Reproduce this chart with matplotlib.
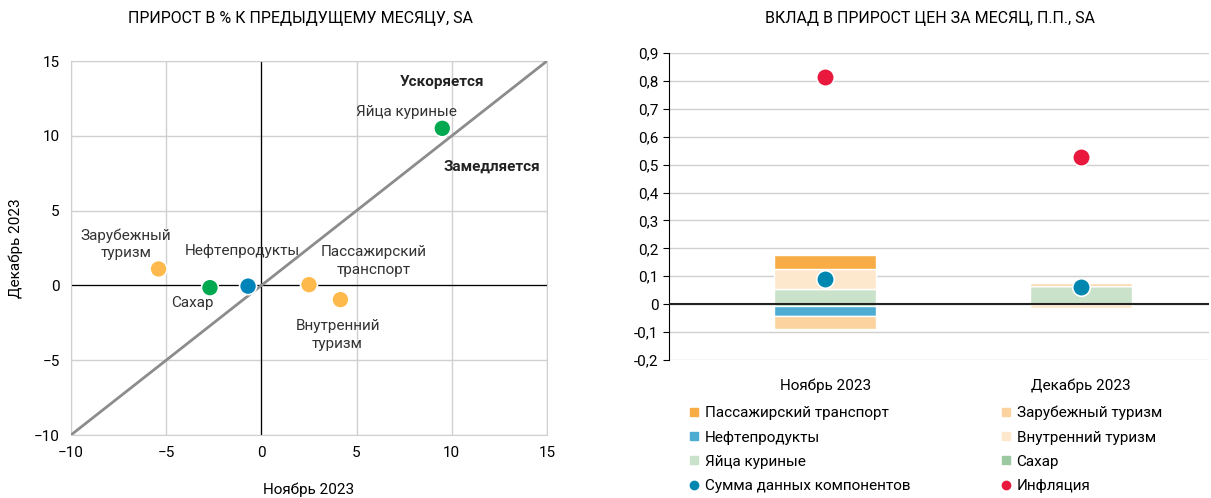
import numpy as np
import matplotlib
matplotlib.use("Agg")
import matplotlib.pyplot as plt
from matplotlib.lines import Line2D

plt.rcParams['font.family'] = ['Roboto', 'DejaVu Sans']
plt.rcParams['font.size'] = 11

# left panel: m/m growth, Nov vs Dec 2023
items = ["Яйца куриные", "Зарубежный\nтуризм", "Сахар", "Нефтепродукты",
         "Пассажирский\nтранспорт", "Внутренний\nтуризм"]
nov_pct = [9.5, -5.4, -2.7, -0.7, 2.5, 4.15]
dec_pct = [10.5, 1.1, -0.15, -0.05, 0.05, -0.95]
item_colors = ["#00A850", "#FDB94B", "#00A850", "#0083B9", "#FDB94B", "#FDB94B"]
label_pos = [(7.6, 11.6), (-7.1, 2.75), (-3.6, -1.2), (-1.0, 2.3), (5.9, 1.65), (4.0, -3.3)]

# right panel: contributions, p.p.
months = ["Ноябрь 2023", "Декабрь 2023"]
contrib = {
    "Яйца куриные": [0.053, 0.066],
    "Внутренний туризм": [0.073, -0.015],
    "Пассажирский транспорт": [0.052, 0.0],
    "Зарубежный туризм": [-0.048, 0.010],
    "Нефтепродукты": [-0.033, 0.0],
    "Сахар": [-0.008, 0.0],
}
comp_colors = {
    "Пассажирский транспорт": "#F8AC45",
    "Зарубежный туризм": "#FCD39F",
    "Нефтепродукты": "#4CACD1",
    "Внутренний туризм": "#FDE8CD",
    "Яйца куриные": "#CAE2CA",
    "Сахар": "#9CC9A1",
}
stack_order = ["Яйца куриные", "Сахар", "Нефтепродукты", "Внутренний туризм",
               "Зарубежный туризм", "Пассажирский транспорт"]
total = [0.089, 0.062]
inflation = [0.815, 0.528]

fig = plt.figure(figsize=(12.11, 4.98), dpi=100)

# ---- left chart
ax1 = fig.add_axes([0.0586, 0.1265, 0.3931, 0.751])
ax1.set_xlim(-10, 15)
ax1.set_ylim(-10, 15)
ax1.set_xticks(np.arange(-10, 16, 5))
ax1.set_yticks(np.arange(-10, 16, 5))
ax1.grid(color="#D0D0D0", lw=1)
for s in ax1.spines.values():
    s.set_color("#D0D0D0")
ax1.tick_params(length=0, pad=8, labelsize=11)
ax1.axhline(0, color="black", lw=0.9, zorder=2)
ax1.axvline(0, color="black", lw=0.9, zorder=2)
ax1.plot([-10, 15], [-10, 15], color="#8C8C8C", lw=2, zorder=3)
ax1.scatter(nov_pct, dec_pct, s=150, c=item_colors, edgecolors="white", linewidths=1.2, zorder=4)
for name, (lx, ly) in zip(items, label_pos):
    ax1.text(lx, ly, name, ha="center", va="center", fontsize=11, color="#333333",
             linespacing=1.35, zorder=5)
ax1.text(9.5, 13.6, "Ускоряется", ha="center", va="center", fontweight="bold", fontsize=11, color="#222222")
ax1.text(12.1, 7.95, "Замедляется", ha="center", va="center", fontweight="bold", fontsize=11, color="#222222")
ax1.set_xlabel("Ноябрь 2023", fontsize=11, labelpad=16)
ax1.set_ylabel("Декабрь 2023", fontsize=11, labelpad=8)
fig.text(0.248, 0.963, "ПРИРОСТ В % К ПРЕДЫДУЩЕМУ МЕСЯЦУ, SA", ha="center", va="center", fontsize=11.5)

# ---- right chart
ax2 = fig.add_axes([0.5524, 0.2771, 0.4459, 0.6165])
x = np.arange(len(months))
pos_base = np.zeros(len(months))
neg_base = np.zeros(len(months))
for comp in stack_order:
    vals = np.array(contrib[comp])
    bottoms = np.where(vals >= 0, pos_base, neg_base)
    ax2.bar(x, vals, 0.4, bottom=bottoms, color=comp_colors[comp],
            edgecolor="white", linewidth=1, zorder=2)
    pos_base += np.where(vals >= 0, vals, 0)
    neg_base += np.where(vals < 0, vals, 0)
ax2.axhline(0, color="#222222", lw=1.5, zorder=3)
ax2.scatter(x, total, s=160, color="#0087B0", edgecolors="white", linewidths=1.2, zorder=4)
ax2.scatter(x, inflation, s=160, color="#E8193C", edgecolors="white", linewidths=1.2, zorder=4)
ax2.set_xlim(-0.61, 1.5)
ax2.set_ylim(-0.2, 0.9)
yt = np.round(np.arange(-0.2, 0.91, 0.1), 1)
ax2.set_yticks(yt)
ax2.set_yticklabels(["0" if v == 0 else f"{v:.1f}".replace(".", ",") for v in yt])
ax2.set_xticks(x)
ax2.set_xticklabels(months)
ax2.tick_params(axis="x", length=0, pad=13, labelsize=11)
ax2.tick_params(axis="y", length=4, labelsize=11, color="black")
ax2.yaxis.grid(True, color="#D0D0D0", lw=1, zorder=0)
ax2.set_axisbelow(True)
for side in ["top", "right", "bottom"]:
    ax2.spines[side].set_visible(False)
ax2.spines["left"].set_color("black")
fig.text(0.768, 0.963, "ВКЛАД В ПРИРОСТ ЦЕН ЗА МЕСЯЦ, П.П., SA", ha="center", va="center", fontsize=11.5)

# legend
def sq(c):
    return Line2D([], [], marker="s", ls="", color=c, markersize=6)
def dot(c):
    return Line2D([], [], marker="o", ls="", color=c, markersize=6)
handles = [sq(comp_colors["Пассажирский транспорт"]), sq(comp_colors["Нефтепродукты"]),
           sq(comp_colors["Яйца куриные"]), dot("#0087B0"),
           sq(comp_colors["Зарубежный туризм"]), sq(comp_colors["Внутренний туризм"]),
           sq(comp_colors["Сахар"]), dot("#E8193C")]
labels = ["Пассажирский транспорт", "Нефтепродукты", "Яйца куриные", "Сумма данных компонентов",
          "Зарубежный туризм", "Внутренний туризм", "Сахар", "Инфляция"]
fig.legend(handles, labels, ncol=2, loc="upper left", bbox_to_anchor=(0.5694, 0.185),
           frameon=False, fontsize=11, handlelength=0.6, handletextpad=0.4,
           columnspacing=5.95, labelspacing=0.67, borderaxespad=0, borderpad=0)

fig.savefig("out.png", dpi=100)
